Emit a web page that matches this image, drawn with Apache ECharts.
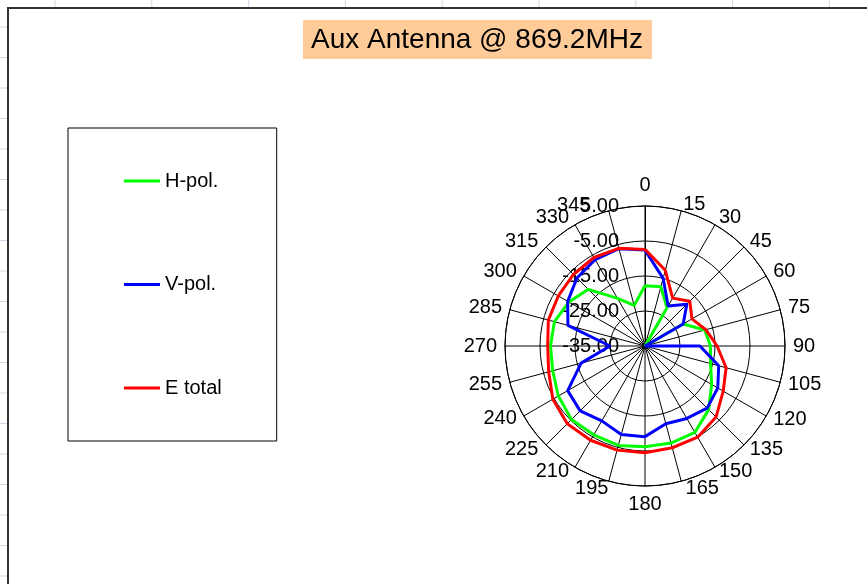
<!DOCTYPE html>
<html>
<head>
<meta charset="utf-8">
<title>Aux Antenna @ 869.2MHz</title>
<script src="https://cdn.jsdelivr.net/npm/echarts@6.0.0/dist/echarts.min.js"></script>
<style>
  html, body { margin: 0; padding: 0; background: #fff; }
  #chart { width: 867px; height: 584px; }
</style>
</head>
<body>
<div id="chart"></div>
<script>
// bearing of each measurement, degrees, 0 at top, clockwise
var angles = [0, 15, 30, 45, 60, 75, 90, 105, 120, 135, 150, 165,
              180, 195, 210, 225, 240, 255, 270, 285, 300, 315, 330, 345];
// levels in dB
var hPol = [-17.8, -17.5, -22.4, -35.0, -22.4, -17.3, -16.3, -15.6, -13.0, -9.3, -6.5, -6.3,
            -6.2, -5.6, -5.7, -5.3, -6.4, -7.7, -8.0, -8.2, -9.9, -12.1, -19.3, -23.0];
var vPol = [-7.6, -15.0, -21.8, -18.1, -22.4, -35.0, -19.3, -13.2, -11.0, -9.9, -11.1, -12.0,
            -9.1, -8.8, -10.3, -8.8, -9.5, -16.1, -25.0, -12.2, -9.5, -7.5, -6.5, -6.2];
var eTotal = [-7.4, -12.6, -19.2, -16.9, -19.5, -17.0, -14.4, -11.0, -9.2, -6.3, -4.9, -4.9,
              -4.5, -4.2, -3.9, -3.6, -4.6, -6.5, -7.2, -6.4, -6.4, -6.1, -5.8, -6.1];
var seriesNames = ['H-pol.', 'V-pol.', 'E total'];
var seriesColors = ['#00ff00', '#0000ff', '#ff0000'];
var radiusMin = -35, radiusMax = 5, radiusStep = 10;

var FONT = 'Liberation Sans, Arial, sans-serif';

// Excel sets the bearing labels a little differently from echarts;
// padding [top, right, bottom, left] per label nudges them into place
var labelPad = {
  0: [0, 0, 3, 0], 15: [0, 0, -11, 22], 30: [0, 0, -10, 0], 45: [0, 0, -10, 0],
  60: [0, 0, -9, 0], 120: [-11, 0, 0, 0], 135: [-11, 0, 0, 0], 150: [-13, 0, 0, 0],
  165: [-10, 0, 0, 38], 195: [-10, 30, 0, 0], 210: [-13, 2, 0, 0], 225: [-11, 2, 0, 0],
  240: [-12, 0, 0, 0], 300: [0, 0, -9, 0], 315: [0, 2, -10, 0], 330: [0, 2, -10, 0],
  345: [0, 66, -12, 0]
};
var labelRich = {};
Object.keys(labelPad).forEach(function (a) {
  labelRich['p' + a] = { padding: labelPad[a], fontSize: 20, fontFamily: FONT, color: '#000' };
});

// polar line needs [radius, angle]; repeat first point at 360 to close the ring
function ring(values) {
  var pts = values.map(function (v, i) { return [v, angles[i]]; });
  pts.push([values[0], 360]);
  return pts;
}

// worksheet behind the chart object: faint cell lines and the chart frame
var sheet = [];
for (var gx = 55; gx < 867; gx += 96.8) {
  sheet.push({ type: 'line', silent: true, shape: { x1: gx, y1: 0, x2: gx, y2: 7 },
               style: { stroke: '#d0d7e5', lineWidth: 1 } });
}
for (var gy = 27; gy < 584; gy += 30.5) {
  sheet.push({ type: 'line', silent: true, shape: { x1: 0, y1: gy, x2: 7, y2: gy },
               style: { stroke: '#d0d7e5', lineWidth: 1 } });
}
sheet.push({ type: 'polyline', silent: true,
             shape: { points: [[8, 584], [8, 8], [867, 8]] },
             style: { stroke: '#333', lineWidth: 2, fill: null } });

var chart = echarts.init(document.getElementById('chart'));
chart.setOption({
  animation: false,
  backgroundColor: '#fff',
  title: {
    text: 'Aux Antenna @ 869.2MHz',
    left: 303,
    top: 20,
    padding: [6, 9, 5, 8],
    backgroundColor: '#ffcc99',
    textStyle: { fontFamily: FONT, fontSize: 28, fontWeight: 'normal', color: '#000' }
  },
  legend: {
    orient: 'vertical',
    left: 68,
    top: 128,
    padding: [43, 55, 43, 56],
    itemGap: 83.5,
    itemWidth: 36,
    itemHeight: 3,
    icon: 'rect',
    borderColor: '#000',
    borderWidth: 1,
    textStyle: { fontFamily: FONT, fontSize: 20, color: '#000' },
    data: seriesNames
  },
  graphic: sheet,
  polar: { center: [645, 346], radius: 140 },
  angleAxis: {
    type: 'value',
    min: 0,
    max: 360,
    interval: 15,
    startAngle: 90,
    clockwise: true,
    axisLine: { lineStyle: { color: '#000', width: 1 } },
    axisTick: { show: false },
    axisLabel: {
      margin: 8, fontSize: 20, color: '#000', fontFamily: FONT,
      rich: labelRich,
      formatter: function (v) {
        if (v === 360) return '';
        return labelPad[v] ? '{p' + v + '|' + v + '}' : String(v);
      }
    },
    splitLine: { show: true, lineStyle: { color: '#000', width: 1 } }
  },
  radiusAxis: {
    type: 'value',
    min: radiusMin,
    max: radiusMax,
    interval: radiusStep,
    axisLine: { show: true, lineStyle: { color: '#000', width: 1 } },
    axisTick: { show: false },
    axisLabel: {
      margin: 26, fontSize: 20, color: '#000', fontFamily: FONT,
      showMinLabel: true, showMaxLabel: true,
      formatter: function (v) { return v.toFixed(2); }
    },
    splitLine: { show: true, lineStyle: { color: '#000', width: 1 } }
  },
  series: [hPol, vPol, eTotal].map(function (vals, i) {
    return {
      name: seriesNames[i],
      type: 'line',
      coordinateSystem: 'polar',
      symbol: 'none',
      data: ring(vals),
      lineStyle: { color: seriesColors[i], width: 3 },
      itemStyle: { color: seriesColors[i] },
      z: 3 + i
    };
  })
});
</script>
</body>
</html>
